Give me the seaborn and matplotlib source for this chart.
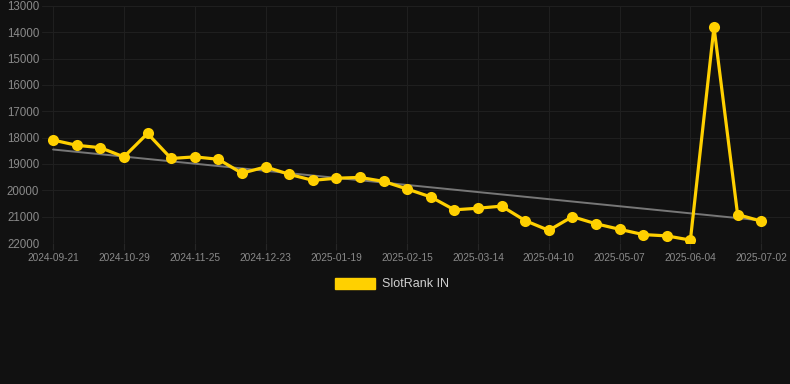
import matplotlib
matplotlib.use("Agg")
import matplotlib.pyplot as plt
import matplotlib.patches as mpatches
import seaborn as sns
import numpy as np
import pandas as pd

# dates shown on the category axis (every third one gets a label)
dates = [
    "2024-09-21", "2024-10-03", "2024-10-16", "2024-10-29", "2024-11-07",
    "2024-11-16", "2024-11-25", "2024-12-04", "2024-12-14", "2024-12-23",
    "2025-01-01", "2025-01-10", "2025-01-19", "2025-01-28", "2025-02-06",
    "2025-02-15", "2025-02-24", "2025-03-05", "2025-03-14", "2025-03-23",
    "2025-04-01", "2025-04-10", "2025-04-19", "2025-04-28", "2025-05-07",
    "2025-05-16", "2025-05-25", "2025-06-04", "2025-06-13", "2025-06-23",
    "2025-07-02",
]
rank_in = [
    18090, 18290, 18380, 18730, 17840, 18790, 18730, 18820, 19350, 19110,
    19390, 19620, 19540, 19510, 19660, 19950, 20250, 20740, 20680, 20600,
    21150, 21520, 21000, 21270, 21480, 21680, 21730, 21890, 13800, 20920,
    21170,
]
y_ticks = [13000, 14000, 15000, 16000, 17000, 18000, 19000, 20000, 21000, 22000]

bg = "#111111"
grid_col = "#1f1f1f"
text_col = "#8a8a8a"
yellow = "#ffd000"

sns.set_theme(style="dark")
plt.rcParams["font.family"] = ["Liberation Sans", "DejaVu Sans"]

df = pd.DataFrame({"idx": np.arange(len(dates)), "date": dates, "rank": rank_in})

fig = plt.figure(figsize=(7.9, 3.84), dpi=100, facecolor=bg)
ax = fig.add_axes([42 / 790, 1 - 243 / 384, 1 - 42 / 790, 237 / 384])
ax.set_facecolor(bg)

# linear trend over the series
k, b = np.polyfit(df["idx"], df["rank"], 1)
trend_x = np.array([df["idx"].iloc[0], df["idx"].iloc[-1]])
ax.plot(trend_x, k * trend_x + b, color="#777777", lw=1.4, zorder=2)

sns.lineplot(data=df, x="idx", y="rank", ax=ax, color=yellow, lw=2.3,
             marker="o", markersize=8, markeredgewidth=0, zorder=3)

ax.set_ylim(22000, 13000)
ax.set_xlim(-0.47, len(dates) - 1 + 1.22)
ax.set_yticks(y_ticks)
ax.set_yticklabels([str(v) for v in y_ticks])
lab_idx = list(range(0, len(dates), 3))
ax.set_xticks(lab_idx)
ax.set_xticklabels([dates[i] for i in lab_idx])
ax.set_xlabel("")
ax.set_ylabel("")

ax.grid(True, color=grid_col, lw=0.8)
for s in ax.spines.values():
    s.set_visible(False)
ax.tick_params(axis="y", length=0, pad=2, labelsize=8.3, labelcolor=text_col)
ax.tick_params(axis="x", length=5, width=0.8, color="#262626", pad=2,
               labelsize=7.3, labelcolor=text_col, bottom=True)

handle = mpatches.Patch(color=yellow, label="SlotRank IN")
fig.legend(handles=[handle], loc="center", bbox_to_anchor=(392 / 790, 1 - 284 / 384),
           frameon=False, fontsize=9, labelcolor="#d0d0d0",
           handlelength=3.2, handleheight=1.0, handletextpad=0.5)

fig.savefig("out.png", dpi=100, facecolor=bg)
